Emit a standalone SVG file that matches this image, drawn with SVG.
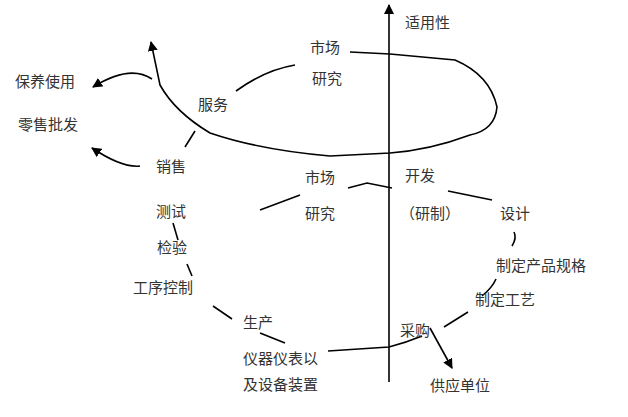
<svg xmlns="http://www.w3.org/2000/svg" width="628" height="417" viewBox="0 0 628 417">
<style>
text{font-family:"Noto Sans CJK SC",sans-serif;font-size:15px;fill:#333}
.c{fill:none;stroke:#000;stroke-width:1.6}
</style>
<defs><marker id="a" markerWidth="10" markerHeight="10" refX="9" refY="5" orient="auto" markerUnits="userSpaceOnUse"><path d="M0,0 L10,5 L0,10 Z" fill="#000"/></marker></defs>
<rect width="628" height="417" fill="#fff"/>
<g id="connectors">
<path class="c" d="M389,382 V5" marker-end="url(#a)"/>
<path class="c" d="M350,52 L390,54 L455,60 Q490,75 497,107 Q495,130 470,135 Q430,150 390,153 L330,156 Q260,150 210,133 Q175,112 160,85 L151,42" marker-end="url(#a)"/>
<path class="c" d="M236,91 Q265,70 295,65"/>
<path class="c" d="M152,79 Q130,64 93,87" marker-end="url(#a)"/>
<path class="c" d="M195,131 L185,147"/>
<path class="c" d="M140,166 Q122,168 92,148" marker-end="url(#a)"/>
<path class="c" d="M348,188 L367,183 L392,188"/>
<path class="c" d="M448,191 L492,200"/>
<path class="c" d="M260,210 L300,195"/>
<path class="c" d="M173,223 L178,240"/>
<path class="c" d="M187,264 L192,276"/>
<path class="c" d="M213,306 L232,319"/>
<path class="c" d="M260,333 L285,343"/>
<path class="c" d="M328,351 L389,347 Q405,343 422,336"/>
<path class="c" d="M444,327 L468,312"/>
<path class="c" d="M482,296 Q492,288 496,279"/>
<path class="c" d="M514,232 Q517,238 512,246"/>
<path class="c" d="M430,328 L452,368" marker-end="url(#a)"/>
</g>
<g id="labels">
<text x="405" y="28">适用性</text>
<text x="310" y="53">市场</text>
<text x="312" y="84">研究</text>
<text x="198" y="110">服务</text>
<text x="15" y="87">保养使用</text>
<text x="18" y="130">零售批发</text>
<text x="156" y="172">销售</text>
<text x="156" y="217">测试</text>
<text x="157" y="253">检验</text>
<text x="133" y="293">工序控制</text>
<text x="243" y="328">生产</text>
<text x="243" y="364">仪器仪表以</text>
<text x="243" y="390">及设备装置</text>
<text x="305" y="183">市场</text>
<text x="305" y="219">研究</text>
<text x="405" y="181">开发</text>
<text x="400" y="219">（研制）</text>
<text x="500" y="219">设计</text>
<text x="496" y="271">制定产品规格</text>
<text x="475" y="305">制定工艺</text>
<text x="400" y="336">采购</text>
<text x="430" y="391">供应单位</text>
</g>
</svg>
